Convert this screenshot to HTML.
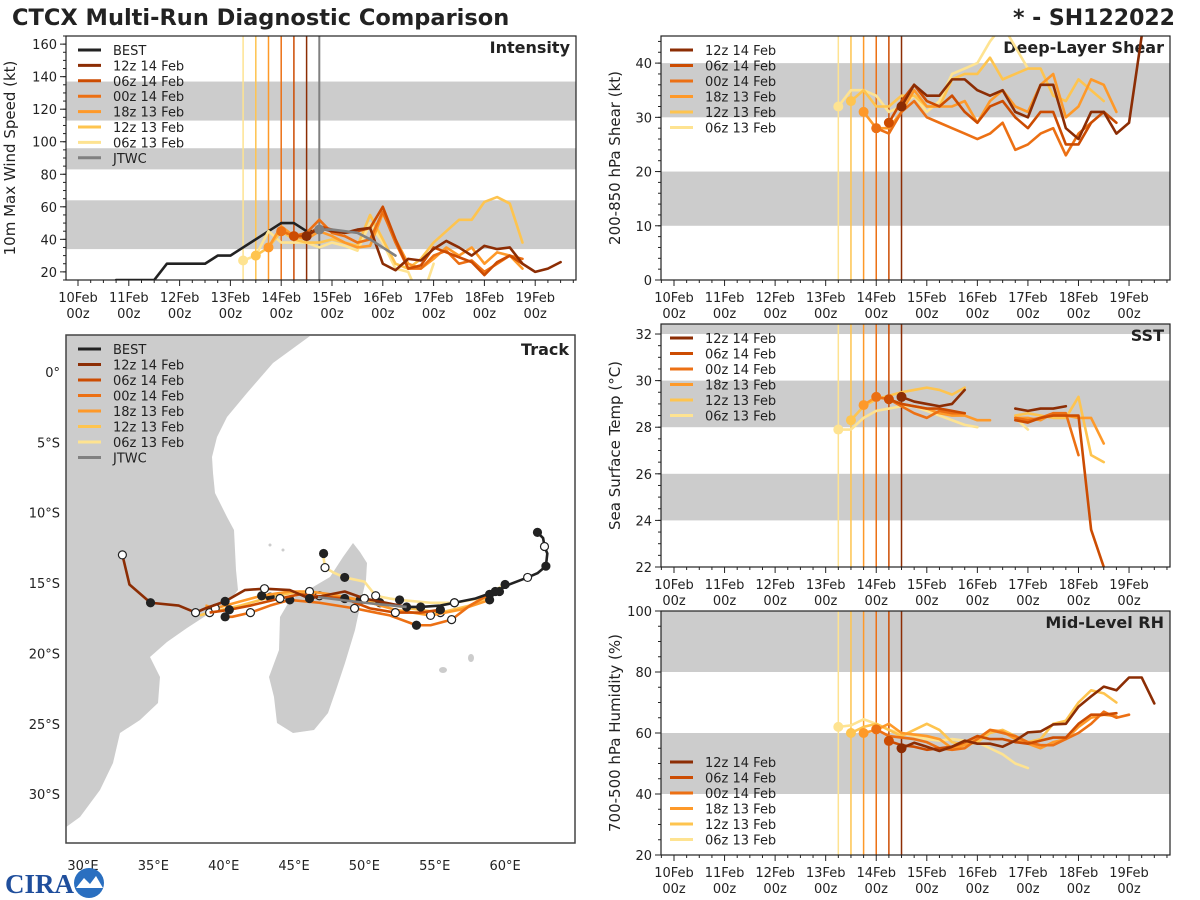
<!DOCTYPE html>
<html><head><meta charset="utf-8">
<style>
html,body{margin:0;padding:0;background:#fff;}
svg{display:block;font-family:"DejaVu Sans","Liberation Sans",sans-serif;}
</style></head>
<body>
<svg id="fig" width="1200" height="900" viewBox="0 0 1200 900" xmlns="http://www.w3.org/2000/svg">
<defs>
<clipPath id="cInt"><rect x="66" y="36" width="510" height="244"/></clipPath>
<clipPath id="cShr"><rect x="661" y="36" width="509" height="244"/></clipPath>
<clipPath id="cSst"><rect x="661" y="324" width="509" height="243"/></clipPath>
<clipPath id="cRh"><rect x="661" y="611" width="509" height="244"/></clipPath>
<clipPath id="cTrk"><rect x="66" y="335" width="509" height="508"/></clipPath>
</defs>
<text x="12" y="25" font-size="22.5" font-weight="bold" fill="#222">CTCX Multi-Run Diagnostic Comparison</text>
<text x="1175" y="25" font-size="22" font-weight="bold" fill="#222" text-anchor="end">* - SH122022</text>
<g id="layer"></g>
<g>
<text x="5" y="893" font-size="27" font-weight="bold" fill="#1f4e9c" font-family="Liberation Serif, serif">CIRA</text>
<circle cx="89" cy="883" r="15" fill="#2a6fc0"/>
<path d="M76 888 L84 878 L90 884 L96 876 L103 888 Z" fill="#fff"/>
</g>
</svg>
<script>
const NS='http://www.w3.org/2000/svg';
const models=['12z 14 Feb','06z 14 Feb','00z 14 Feb','18z 13 Feb','12z 13 Feb','06z 13 Feb'];
const colors=['#8c2d04','#cc4c02','#ec7014','#fe9929','#fec44f','#fee391'];
const inits=[4.5,4.25,4.0,3.75,3.5,3.25];
const dayLabels=['10Feb','11Feb','12Feb','13Feb','14Feb','15Feb','16Feb','17Feb','18Feb','19Feb'];
// Intensity (kt), 6-hourly from init
const int12z14=[42,47,45,44,46,47,25,21,28,27,34,39,35,30,36,34,35,25,20,22,26];
const int06z14=[42,42,48,46,44,45,47,60,40,22,24,35,32,29,26,18,26,30,25];
const int00z14=[45,42,44,52,44,42,38,40,57,38,22,22,30,33,25,27,20,25,30,28];
const int18z13=[35,48,42,40,45,42,38,35,36,56,40,25,22,28,35,30,35,25,32,30,22];
const int12z13=[30,35,45,40,38,38,40,38,36,55,40,25,22,28,38,45,52,52,63,66,62,38];
const int06z13=[27,30,45,38,38,38,35,38,36,33,50,38,22,20,2,25];
const bestTimes=[0.75,1,1.25,1.5,1.75,2,2.25,2.5,2.75,3,3.25,3.5,3.75,4,4.25,4.5,4.75];
const bestInt=[15,15,15,15,25,25,25,25,30,30,35,40,45,50,50,45,45];
const jtwcTimes=[4.75,5,5.25,5.5,5.75,6,6.25];
const jtwcInt=[46,46,45,44,40,35,30];
// Shear (kt)
const shr12z14=[32,36,34,34,37,37,35,34,35,31,30,36,36,28,26,31,31,27,29,45,60];
const shr06z14=[29,33,36,33,32,34,31,29,32,33,30,28,31,31,25,25,29,31,29];
const shr00z14=[28,27,31,33,30,29,28,27,26,27,29,24,25,27,28,23,27,29];
const shr18z13=[31,28,28,31,35,32,32,32,33,29,33,35,32,31,36,38,30,32,37,36,31];
const shr12z13=[33,35,32,32,34,34,32,32,37,38,38,41,37,38,39,39,34,33,37,35,33];
const shr06z13=[32,35,35,34,31,32,34,31,33,38,39,40,44,47,43,39];
// SST (C): two segments each
const sstA12z14=[29.3,29.1,29.0,28.9,29.0,29.6];
const sstA06z14=[29.2,29.0,28.9,28.8,28.8,28.7,28.6];
const sstA00z14=[29.3,29.2,28.9,28.6,28.4,28.7,28.6,28.6];
const sstA18z13=[28.95,29.3,29.2,29.0,28.9,28.8,28.6,28.5,28.5,28.3,28.3];
const sstA12z13=[28.3,28.9,29.2,29.35,29.5,29.6,29.7,29.6,29.4,29.7];
const sstA06z13=[27.9,27.9,28.4,28.7,28.8,28.9,28.9,28.7,28.5,28.3,28.1,28.0];
const sstB12z14=[28.8,28.7,28.8,28.8,28.9];
const sstB06z14=[28.3,28.2,28.4,28.5,28.5,28.5,23.6,22.0];
const sstB00z14=[28.4,28.3,28.4,28.6,28.6,26.8];
const sstB18z13=[28.4,28.4,28.3,28.6,28.5,28.4,28.4,27.3];
const sstB12z13=[28.5,28.6,28.5,28.4,28.4,29.3,26.8,26.5];
const sstB06z13=[28.4,27.9];
const sstBStart=6.75;
// RH (%)
const rh12z14=[55,56.8,55.5,54.1,55.5,57.5,56.5,56.5,55.5,57.5,60.2,60.5,62.8,63,68.6,72,75.2,74,78.2,78.2,69.7];
const rh06z14=[57.4,56,55.5,54.5,55,55.5,57,59,58,58,57,56.5,57.5,58.5,58.5,63,66,66,66.5];
const rh00z14=[61.2,59,58.5,58,57,55,54.5,55,58,61,60,59,57,56,56,58,60,63,67,65,66];
const rh18z13=[60,61,63,60,59.5,59,58,55,56,58,61,60.5,58,56.5,55,57,58,62,65,66,65.5];
const rh12z13=[60,62,63,61,59,61,63,61,57,56,57,60,61,59,57,58,63,64,70,74,73,70];
const rh06z13=[62,62.5,64.5,63,61,60,59,58,57.5,58,57.5,57,55,53,50,48.5];
// Tracks (lon E, lat)
const bestLon=[62.3,62.7,62.8,63.0,62.9,62.3,61.6,60.3,59.3,57.9,56.4,55.4,54.0,53.0];
const bestLat=[-11.4,-11.8,-12.4,-12.9,-13.8,-14.3,-14.6,-15.1,-15.6,-16.1,-16.4,-16.6,-16.7,-16.7];
const jtwcLon=[53.0,50.0,46.7];
const jtwcLat=[-16.7,-16.4,-16.0];
const trk12z14Lon=[53.0,52.5,50.0,48.6,46.1,44.7,42.9,41.5,40.1,38.7,38.0,36.8,34.8,33.3,32.8];
const trk12z14Lat=[-16.7,-16.6,-16.1,-15.6,-16.1,-15.5,-15.4,-15.5,-16.3,-16.8,-17.1,-16.6,-16.4,-15.1,-13.0];
const trk06z14Lon=[55.4,54.0,52.2,50.4,48.6,45.4,44.0,41.9,40.4,39.0];
const trk06z14Lat=[-16.9,-17.1,-17.1,-16.8,-16.1,-15.8,-16.1,-16.6,-16.9,-17.1];
const trk00z14Lon=[58.9,57.5,56.2,54.7,53.7,51.8,49.3,46.8,44.7,43.3,41.9,40.6,40.1];
const trk00z14Lat=[-15.8,-16.6,-17.6,-18.0,-18.0,-17.3,-16.8,-16.4,-16.2,-16.6,-17.1,-17.4,-17.4];
const trk18z13Lon=[58.9,56.8,54.7,52.2,49.7,47.6,46.1,44.7,42.7,41.2,39.4,38.7];
const trk18z13Lat=[-16.2,-16.9,-17.3,-16.9,-16.2,-15.8,-15.6,-15.6,-15.9,-16.3,-16.8,-16.6];
const trk12z13Lon=[59.6,57.5,55.4,53.2,51.1,49.0,46.8,45.4,43.3,41.2,39.0,38.3];
const trk12z13Lat=[-15.6,-16.6,-17.1,-16.8,-16.4,-16.2,-15.9,-15.6,-16.0,-16.6,-17.1,-17.3];
const trk06z13Lon=[60.0,58.2,56.4,54.7,52.5,51.8,50.8,50.0,48.6,47.9,47.2,47.1,47.1];
const trk06z13Lat=[-15.1,-16.1,-16.4,-16.4,-16.2,-16.1,-15.9,-14.9,-14.6,-14.3,-13.9,-13.2,-12.9];

const layer=document.getElementById('layer');
function el(tag,attrs,parent){const e=document.createElementNS(NS,tag);for(const k in attrs)e.setAttribute(k,attrs[k]);(parent||layer).appendChild(e);return e;}
function txt(x,y,s,size,anchor,parent,weight){const t=el('text',{x:x,y:y,'font-size':size,'text-anchor':anchor||'start',fill:'#222'},parent);if(weight)t.setAttribute('font-weight',weight);t.textContent=s;return t;}

function panel(P){
  const g=el('g',{});
  
  
  const X=d=>P.d0+P.dw*d, Y=v=>P.y1-(v-P.vmin)/(P.vmax-P.vmin)*(P.y1-P.y0);
  P.X=X;P.Y=Y;
  P.bands.forEach(b=>{const r=el('rect',{x:P.x0,y:Y(Math.min(b[1],P.vmax)),width:P.x1-P.x0,height:Y(b[0])-Y(Math.min(b[1],P.vmax)),fill:'#cccccc'},g);
    
    });
  P.yt.forEach(v=>{el('line',{x1:P.x0-6,x2:P.x0,y1:Y(v),y2:Y(v),stroke:'#222','stroke-width':1},g);
    const t=txt(P.x0-9,Y(v)+5,String(v),13,'end',g);
    
    });
  for(let v=P.vmin;v<=P.vmax;v+=P.ym){el('line',{x1:P.x0-3,x2:P.x0,y1:Y(v),y2:Y(v),stroke:'#222','stroke-width':1},g);}
  for(let d=-0.25;d<=10.5;d+=0.25){const x=X(d);if(x<P.x0||x>P.x1)continue;el('line',{x1:x,x2:x,y1:P.y1,y2:P.y1+(Math.abs(d-Math.round(d))<0.01?6:3),stroke:'#222','stroke-width':1},g);}
  dayLabels.forEach((s,i)=>{const t1=txt(X(i),P.y1+22,s,13,'middle',g);
    
    
    const t2=txt(X(i),P.y1+38,'00z',13,'middle',g);
    
    });
  const yl=txt(0,0,P.ylabel,15,'middle',g);
  yl.setAttribute('transform',`translate(${P.ylx},${(P.y0+P.y1)/2}) rotate(-90)`);
  
  
  const pt=txt(P.x1-6,P.y0+17,P.title,16,'end',g,'bold');
  
  
  P.g=el('g',{'clip-path':`url(#${P.clip})`},g);
  return P;
}
function vlines(P,withJ){
  inits.forEach((t,i)=>{const l=el('line',{x1:P.X(t),x2:P.X(t),y1:P.y0,y2:P.y1,stroke:colors[i],'stroke-width':1.5},P.g);
    
    });
  if(withJ){const l=el('line',{x1:P.X(4.75),x2:P.X(4.75),y1:P.y0,y2:P.y1,stroke:'#808080','stroke-width':2},P.g);
    
    }
}
function series(P,t0,vals,color,name,dot,times){
  const pts=vals.map((v,i)=>[P.X(times?times[i]:t0+0.25*i),P.Y(v)]);
  const pl=el('polyline',{points:pts.map(p=>p.join(',')).join(' '),fill:'none',stroke:color,'stroke-width':2.6,'stroke-linejoin':'round','stroke-linecap':'round'},P.g);
  
  
  if(dot){const c=el('circle',{cx:pts[0][0],cy:pts[0][1],r:5,fill:color},P.g);
    
    }
}
function frame(P){const r=el('rect',{x:P.x0,y:P.y0,width:P.x1-P.x0,height:P.y1-P.y0,fill:'none',stroke:'#222','stroke-width':1.2},P.g.parentNode);
  
  }
function legend(parent,x,y,labels,cols,dy){
  const g=el('g',{},parent);
  
  
  labels.forEach((s,i)=>{const e=el('g',{},g);
    
    
    el('line',{x1:x,x2:x+23,y1:y+i*dy,y2:y+i*dy,stroke:cols[i],'stroke-width':3},e);
    txt(x+35,y+i*dy+5,s,13,'start',e);});
}

// Intensity
const PI=panel({name:'intensity-panel',x0:66,x1:576,y0:36,y1:280,vmin:15,vmax:165,d0:78,dw:50.8,bands:[[34,64],[83,96],[113,137]],yt:[20,40,60,80,100,120,140,160],ym:5,ylabel:'10m Max Wind Speed (kt)',ylx:15,title:'Intensity',clip:'cInt'});
vlines(PI,true);
series(PI,0,bestInt,'#222','best-intensity',false,bestTimes);
const intVals=[int12z14,int06z14,int00z14,int18z13,int12z13,int06z13];
for(let i=5;i>=0;i--)series(PI,inits[i],intVals[i],colors[i],'intensity-'+models[i].replace(/ /g,'-').toLowerCase(),true);
series(PI,0,jtwcInt,'#808080','jtwc-intensity',true,jtwcTimes);
frame(PI);
legend(PI.g.parentNode,78,50,['BEST'].concat(models,['JTWC']),['#222'].concat(colors,['#808080']),15.4);

const RX0=661,RX1=1170,RD0=674,RDW=50.56;
// Shear
const PS=panel({name:'shear-panel',x0:RX0,x1:RX1,y0:36,y1:280,vmin:0,vmax:45,d0:RD0,dw:RDW,bands:[[10,20],[30,40]],yt:[0,10,20,30,40],ym:2,ylabel:'200-850 hPa Shear (kt)',ylx:620,title:'Deep-Layer Shear',clip:'cShr'});
vlines(PS,false);
const shrVals=[shr12z14,shr06z14,shr00z14,shr18z13,shr12z13,shr06z13];
for(let i=5;i>=0;i--)series(PS,inits[i],shrVals[i],colors[i],'shear-'+models[i].replace(/ /g,'-').toLowerCase(),true);
frame(PS);
legend(PS.g.parentNode,670,50,models,colors,15.5);

// SST
const PT=panel({name:'sst-panel',x0:RX0,x1:RX1,y0:324,y1:567,vmin:22,vmax:32.43,d0:RD0,dw:RDW,bands:[[24,26],[28,30],[32,34]],yt:[22,24,26,28,30,32],ym:0.5,ylabel:'Sea Surface Temp (°C)',ylx:620,title:'SST',clip:'cSst'});
vlines(PT,false);
const sstA=[sstA12z14,sstA06z14,sstA00z14,sstA18z13,sstA12z13,sstA06z13];
const sstB=[sstB12z14,sstB06z14,sstB00z14,sstB18z13,sstB12z13,sstB06z13];
for(let i=5;i>=0;i--){const n='sst-'+models[i].replace(/ /g,'-').toLowerCase();series(PT,inits[i],sstA[i],colors[i],n,true);series(PT,sstBStart,sstB[i],colors[i],n+'-later',false);}
frame(PT);
legend(PT.g.parentNode,670,338,models,colors,15.5);

// RH
const PR=panel({name:'rh-panel',x0:RX0,x1:RX1,y0:611,y1:855,vmin:20,vmax:100,d0:RD0,dw:RDW,bands:[[40,60],[80,100]],yt:[20,40,60,80,100],ym:5,ylabel:'700-500 hPa Humidity (%)',ylx:620,title:'Mid-Level RH',clip:'cRh'});
vlines(PR,false);
const rhVals=[rh12z14,rh06z14,rh00z14,rh18z13,rh12z13,rh06z13];
for(let i=5;i>=0;i--)series(PR,inits[i],rhVals[i],colors[i],'rh-'+models[i].replace(/ /g,'-').toLowerCase(),true);
frame(PR);
legend(PR.g.parentNode,670,762,models,colors,15.5);

// Track map
const TG=el('g',{});


const LX=lon=>83+(lon-30)*14.07, LY=lat=>372-lat*14.07;
const TC=el('g',{'clip-path':'url(#cTrk)'},TG);
const africa=[[310,336],[273,363],[247,393],[227,417],[217,437],[212,457],[213,473],[215,493],[227,517],[234,530],[236,570],[238,590],[228,603],[207,615],[187,628],[167,642],[150,657],[160,677],[158,703],[140,720],[120,733],[113,763],[100,790],[80,817],[62,830],[60,335]];
const a=el('polygon',{points:africa.map(p=>p.join(',')).join(' '),fill:'#cccccc'},TC);


const mad=[[353,543],[360,552],[367,563],[366,580],[362,597],[355,630],[345,663],[336,690],[328,713],[314,730],[293,733],[277,723],[274,697],[269,677],[279,650],[280,617],[290,600],[313,587],[330,577],[343,557]];
const m=el('polygon',{points:mad.map(p=>p.join(',')).join(' '),fill:'#cccccc'},TC);


[[443,670,4,3],[471,658,3,4],[270,545,1.5,1.5],[283,550,1.5,1.5]].forEach(p=>{const e=el('ellipse',{cx:p[0],cy:p[1],rx:p[2],ry:p[3],fill:'#cccccc'},TC);
  
  });
function trk(lons,lats,color,name,dots){
  const pts=lons.map((l,i)=>[LX(l),LY(lats[i])]);
  const pl=el('polyline',{points:pts.map(p=>p.join(',')).join(' '),fill:'none',stroke:color,'stroke-width':2.6,'stroke-linejoin':'round'},TC);
  
  
  if(dots)pts.forEach((p,i)=>{if(i%2)return;const c=el('circle',{cx:p[0],cy:p[1],r:4,fill:(i/2)%2?'#fff':'#222',stroke:'#222','stroke-width':1.2},TC);
    
    });
}
const tLons=[trk12z14Lon,trk06z14Lon,trk00z14Lon,trk18z13Lon,trk12z13Lon,trk06z13Lon];
const tLats=[trk12z14Lat,trk06z14Lat,trk00z14Lat,trk18z13Lat,trk12z13Lat,trk06z13Lat];
for(let i=5;i>=0;i--)trk(tLons[i],tLats[i],colors[i],'track-'+models[i].replace(/ /g,'-').toLowerCase(),true);
trk(bestLon,bestLat,'#222','best-track',true);
trk(jtwcLon,jtwcLat,'#808080','jtwc-track',false);
const tf=el('rect',{x:66,y:335,width:509,height:508,fill:'none',stroke:'#444','stroke-width':1.5},TG);


const tt=txt(569,355,'Track',16,'end',TG,'bold');


legend(TG,78,349,['BEST'].concat(models,['JTWC']),['#222'].concat(colors,['#808080']),15.5);
const latTicks=[0,-5,-10,-15,-20,-25,-30];
latTicks.forEach(v=>{const t=txt(60,LY(v)+5,v===0?'0°':(-v)+'°S',13,'end',TG);
  
  });
const lonTicks=[30,35,40,45,50,55,60];
lonTicks.forEach(v=>{const t=txt(LX(v),870,v+'°E',13,'middle',TG);
  
  });
</script>
</body></html>
